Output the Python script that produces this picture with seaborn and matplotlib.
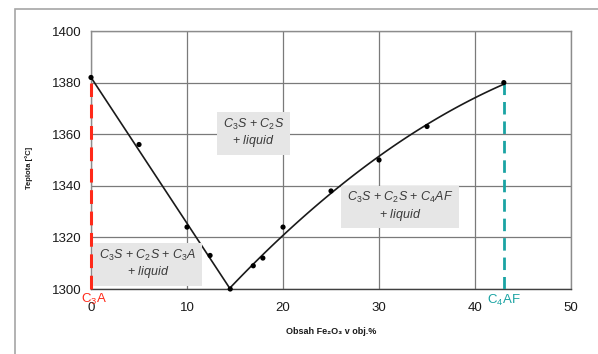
import matplotlib
matplotlib.use("Agg")
import matplotlib.pyplot as plt
import seaborn as sns

# Measured points: Fe2O3 content (vol.%) vs temperature (°C)
fe2o3 = [0, 5, 10, 12.4, 14.5, 16.9, 17.9, 20, 25, 30, 35, 43]
temp = [1382, 1356, 1324, 1313, 1300, 1309, 1312, 1324, 1338, 1350, 1363, 1380]

# Liquidus, C3S side: straight branch down to the eutectic
left_x = [0, 14.5]
left_y = [1382, 1300]

# Liquidus, C4AF side: points the curved branch is fitted through
right_x = [14.5, 16.9, 17.9, 20, 25, 30, 35, 43]
right_y = [1300, 1309, 1312, 1324, 1338, 1350, 1363, 1380]

# Phase compositions at the ends of the section
c3a_x, c4af_x = 0, 43
end_top = 1380

x_ticks = [0, 10, 20, 30, 40, 50]
y_ticks = [1300, 1320, 1340, 1360, 1380, 1400]

sns.set_theme(style="white")
plt.rcParams["font.family"] = ["Liberation Sans", "DejaVu Sans"]
plt.rcParams["mathtext.fontset"] = "custom"
plt.rcParams["mathtext.rm"] = "Liberation Sans"
plt.rcParams["mathtext.it"] = "Liberation Sans:italic"

fig = plt.figure(figsize=(5.98, 3.54), dpi=100)
ax = fig.add_axes([0.1522, 0.1836, 0.8027, 0.7288])

# outer frame around the chart
frame = plt.Rectangle((15 / 598, -0.1), 2, 1 - 9 / 354 + 0.1, transform=fig.transFigure,
                      fill=False, edgecolor="#a6a6a6", linewidth=1.2, clip_on=False)
fig.add_artist(frame)

ax.set_xlim(0, 50)
ax.set_ylim(1300, 1400)
ax.set_xticks(x_ticks)
ax.set_yticks(y_ticks)
ax.grid(True, color="#7a7a7a", linewidth=0.9)
ax.set_axisbelow(True)
for side in ["top", "right", "left"]:
    ax.spines[side].set_color("#8c8c8c")
    ax.spines[side].set_linewidth(1.0)
ax.spines["bottom"].set_color("#404040")
ax.spines["bottom"].set_linewidth(1.0)
ax.tick_params(axis="both", length=0, labelsize=9.5, colors="#1a1a1a")
ax.tick_params(axis="x", pad=9)
ax.tick_params(axis="y", pad=7)

# boundary phases
ax.plot([c3a_x, c3a_x], [1300, end_top], color="#ff2a1a", linestyle=(0, (4.5, 2.5)),
        linewidth=2.2, zorder=3, clip_on=False)
ax.plot([c4af_x, c4af_x], [1300, end_top], color="#1aa3a3", linestyle=(0, (4.5, 2.5)),
        linewidth=2.0, zorder=3)

sns.lineplot(x=left_x, y=left_y, ax=ax, color="#1a1a1a", linewidth=1.2, zorder=4)
sns.regplot(x=right_x, y=right_y, ax=ax, order=2, ci=None, scatter=False, truncate=True,
            line_kws=dict(color="#1a1a1a", linewidth=1.2, zorder=4))
sns.scatterplot(x=fe2o3, y=temp, ax=ax, color="black", s=14, edgecolor="none",
                zorder=5, clip_on=False)
ax.set_xlim(0, 50)
ax.set_ylim(1300, 1400)

box = dict(facecolor="#e6e6e6", edgecolor="none", boxstyle="square,pad=0.45")
ax.text(16.9, 1360.5, "$C_3S$ + $C_2S$\n+ $liquid$", ha="center", va="center",
        fontsize=9, color="#3a3a3a", bbox=box, linespacing=1.1, zorder=6)
ax.text(5.9, 1309.7, "$C_3S$ + $C_2S$ + $C_3A$\n+ $liquid$", ha="center", va="center",
        fontsize=9, color="#3a3a3a", bbox=box, linespacing=1.1, zorder=6)
ax.text(32.2, 1332, "$C_3S$ + $C_2S$ + $C_4AF$\n+ $liquid$", ha="center", va="center",
        fontsize=9, color="#3a3a3a", bbox=box, linespacing=1.1, zorder=6)

ax.text(c3a_x + 0.3, 1299, r"C$_3$A", color="#ff2a1a", fontsize=9.5, ha="center", va="top")
ax.text(c4af_x, 1298.5, r"C$_4$AF", color="#1aa3a3", fontsize=9.5, ha="center", va="top")

ax.set_xlabel("Obsah Fe₂O₃ v obj.%", fontsize=6.5, fontweight="bold", labelpad=10,
              color="#1a1a1a")
ax.set_ylabel("Teplota [°C]", fontsize=5.5, fontweight="bold", color="#1a1a1a")
ax.yaxis.set_label_coords(-0.121, 0.47)

fig.savefig("out.png", dpi=100, facecolor="white")
